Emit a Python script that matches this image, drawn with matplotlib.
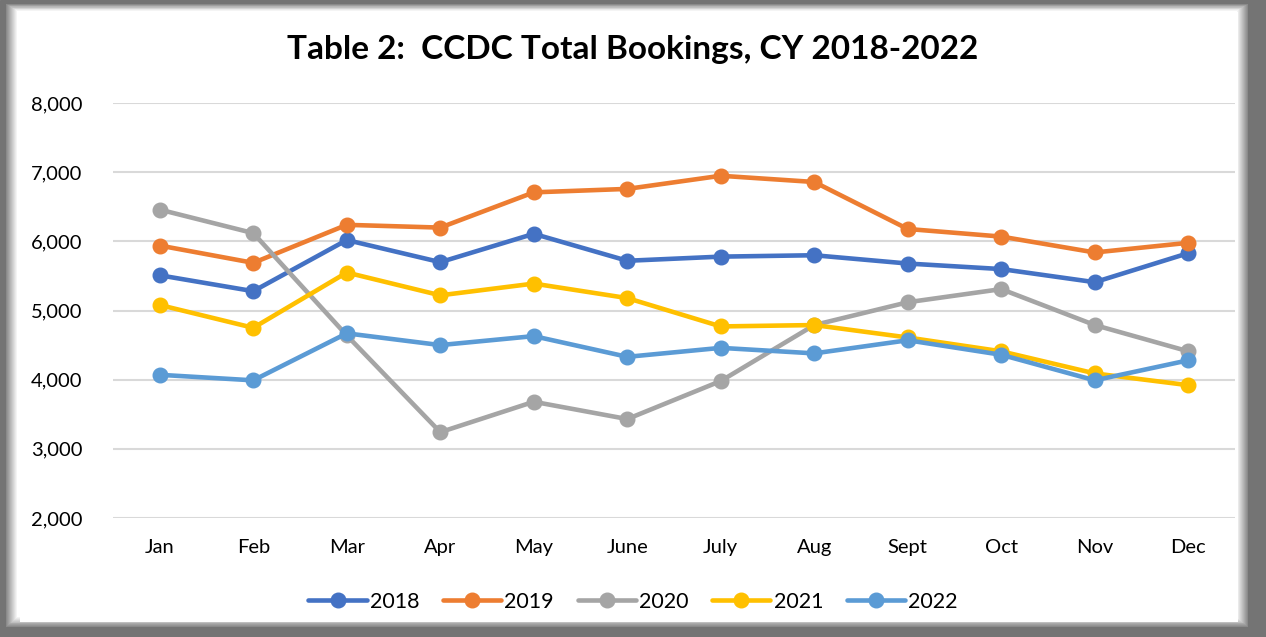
"""折线图 - CCDC Total Bookings, CY 2018-2022"""
import numpy as np
import matplotlib
matplotlib.use('Agg')
import matplotlib.pyplot as plt
from matplotlib.patches import Rectangle

months = ['Jan', 'Feb', 'Mar', 'Apr', 'May', 'June', 'July', 'Aug', 'Sept', 'Oct', 'Nov', 'Dec']
years = ['2018', '2019', '2020', '2021', '2022']
bookings_2018 = [5510, 5280, 6020, 5700, 6110, 5720, 5780, 5800, 5680, 5600, 5410, 5830]
bookings_2019 = [5940, 5690, 6240, 6200, 6710, 6760, 6950, 6860, 6180, 6070, 5840, 5980]
bookings_2020 = [6460, 6120, 4640, 3240, 3680, 3430, 3980, 4790, 5120, 5310, 4790, 4410]
bookings_2021 = [5080, 4750, 5550, 5220, 5390, 5180, 4770, 4790, 4610, 4410, 4090, 3920]
bookings_2022 = [4070, 3990, 4670, 4500, 4630, 4330, 4460, 4380, 4570, 4360, 3990, 4280]
colors = ['#4472C4', '#ED7D31', '#A5A5A5', '#FFC000', '#5B9BD5']

plt.rcParams['font.family'] = ['Lato', 'DejaVu Sans']

fig = plt.figure(figsize=(12.66, 6.37), dpi=100)

# frame with soft shadow
bg = fig.add_axes([0, 0, 1, 1], zorder=-10)
bg.set_xlim(0, 1266)
bg.set_ylim(637, 0)
bg.axis('off')
bg.add_patch(Rectangle((0, 0), 1266, 637, color='#747474'))
for i in range(12):
    shade = 0.5 + 0.5 * (i + 1) / 12
    bg.add_patch(Rectangle((6 + i, 4 + i * 0.6), 1248 - 6 - 2 * i, 627 - 4 - i * 1.5,
                           color=(shade, shade, shade), lw=0))
bg.add_patch(Rectangle((20, 12), 1218, 610, color='white', lw=0))

ax = fig.add_axes([0.0893, 0.187, 0.8862, 0.651])
series = [bookings_2018, bookings_2019, bookings_2020, bookings_2021, bookings_2022]
x_pos = np.arange(len(months))
for year, vals, c in zip(years, series, colors):
    ax.plot(x_pos, vals, color=c, lw=3.3, marker='o', markersize=10.5, label=year,
            solid_capstyle='round')

ax.set_xlim(-0.5, len(months) - 0.5)
ax.set_ylim(2000, 8000)
ax.set_yticks(range(2000, 8001, 1000))
ax.set_yticklabels([f'{v:,}' for v in range(2000, 8001, 1000)], fontsize=14.5)
ax.set_xticks(x_pos)
ax.set_xticklabels(months, fontsize=14.5)
ax.tick_params(axis='x', length=0, pad=15)
ax.tick_params(axis='y', length=0, pad=22)
ax.grid(axis='y', color='#D9D9D9', lw=1.5)
ax.set_axisbelow(True)
for s in ax.spines.values():
    s.set_visible(False)

fig.text(0.5, 0.922, 'Table 2:  CCDC Total Bookings, CY 2018-2022',
         ha='center', va='center', fontsize=24, fontweight='bold')

fig.legend(loc='center', bbox_to_anchor=(0.5, 0.055), ncol=5, frameon=False,
           fontsize=15.5, handlelength=2.7, columnspacing=1.1, handletextpad=0.15)

fig.savefig('out.png', dpi=100)
plt.close(fig)
